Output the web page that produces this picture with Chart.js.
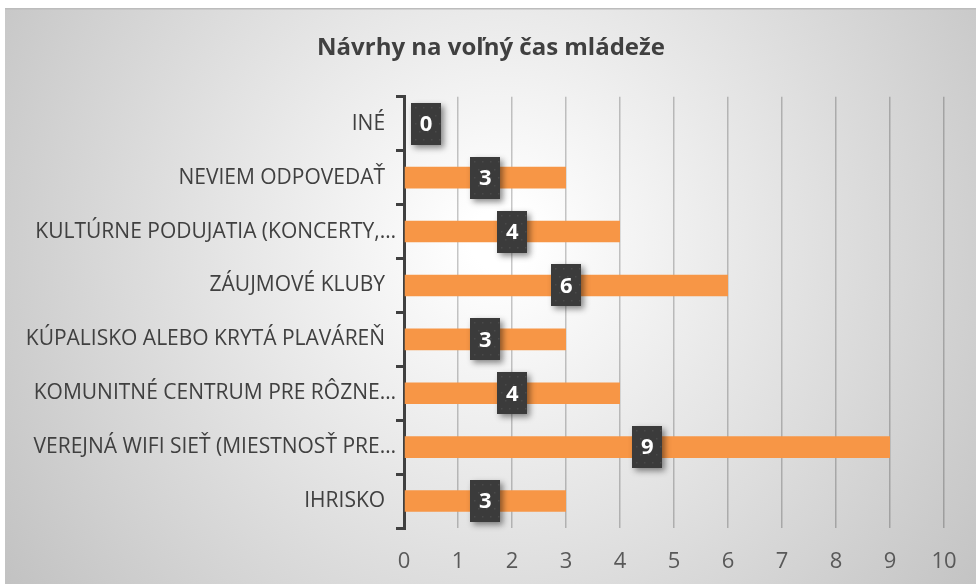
<!DOCTYPE html>
<html>
<head>
<meta charset="utf-8">
<script src="https://cdn.jsdelivr.net/npm/chart.js@4/dist/chart.umd.min.js"></script>
<style>
  html, body { margin: 0; padding: 0; background: #fff; }
  #wrap { width: 976px; height: 584px; }
</style>
</head>
<body>
<div id="wrap"><canvas id="chart" width="976" height="584"></canvas></div>
<script>
const title = "Návrhy na voľný čas mládeže";
const categories = [
	"INÉ  ",
	"NEVIEM ODPOVEDAŤ  ",
	"KULTÚRNE PODUJATIA (KONCERTY,…",
	"ZÁUJMOVÉ KLUBY  ",
	"KÚPALISKO ALEBO KRYTÁ PLAVÁREŇ  ",
	"KOMUNITNÉ CENTRUM PRE RÔZNE…",
	"VEREJNÁ WIFI SIEŤ (MIESTNOSŤ PRE…",
	"IHRISKO  ",
];
const values = [0, 3, 4, 6, 3, 4, 9, 3];
const xTicks = [0, 1, 2, 3, 4, 5, 6, 7, 8, 9, 10];

const background = {
	id: "background",
	beforeDraw(chart) {
		const { ctx, width, height } = chart;
		ctx.save();
		ctx.fillStyle = "#ffffff";
		ctx.fillRect(0, 0, width, height);
		const g = ctx.createRadialGradient(500, 240, 30, 500, 240, 620);
		g.addColorStop(0, "#ffffff");
		g.addColorStop(1, "#c0c0c0");
		ctx.fillStyle = g;
		ctx.fillRect(5, 8, width - 5, height - 8);
		ctx.fillStyle = "#bcbcbc";
		ctx.fillRect(5, 8, width - 5, 1.5);
		ctx.restore();
	},
};

const boxLabels = {
	id: "boxLabels",
	afterDatasetsDraw(chart) {
		const { ctx, chartArea } = chart;
		const meta = chart.getDatasetMeta(0);
		ctx.save();
		meta.data.forEach((bar, i) => {
			const w = 30, h = 42;
			const cx = Math.max((bar.x + bar.base) / 2, chartArea.left + 22);
			const x = Math.round(cx - w / 2), y = Math.round(bar.y - h / 2);
			ctx.save();
			ctx.shadowColor = "rgba(0,0,0,0.45)";
			ctx.shadowBlur = 6;
			ctx.shadowOffsetX = 3;
			ctx.shadowOffsetY = 3;
			ctx.fillStyle = "#3b3b3b";
			ctx.fillRect(x, y, w, h);
			ctx.restore();
			ctx.fillStyle = "#4a4a4a";
			for (let dy = 4; dy < h; dy += 8) {
				for (let dx = 4 + (dy % 16 === 4 ? 0 : 4); dx < w; dx += 8) {
					ctx.fillRect(x + dx, y + dy, 1.5, 1.5);
				}
			}
			ctx.fillStyle = "#ffffff";
			ctx.font = "bold 22px 'Open Sans'";
			ctx.textAlign = "center";
			ctx.textBaseline = "middle";
			ctx.fillText(String(values[i]), cx, bar.y + 1);
		});
		ctx.restore();
	},
};

new Chart(document.getElementById("chart"), {
	type: "bar",
	plugins: [background, boxLabels],
	data: {
		labels: categories,
		datasets: [
			{
				data: values,
				backgroundColor: "#F79646",
				borderWidth: 0,
				barPercentage: 0.4,
				categoryPercentage: 1,
			},
		],
	},
	options: {
		indexAxis: "y",
		responsive: false,
		animation: false,
		layout: { padding: { top: 9, right: 0, bottom: 0, left: 6 } },
		plugins: {
			legend: { display: false },
			tooltip: { enabled: false },
			title: {
				display: true,
				text: title,
				color: "#404040",
				font: { family: "'Open Sans'", size: 24, weight: "bold" },
				padding: { top: 25, bottom: 34 },
			},
		},
		scales: {
			x: {
				min: 0,
				max: 10,
				afterBuildTicks(scale) {
					scale.ticks = xTicks.map(v => ({ value: v }));
				},
				afterFit(scale) {
					scale.height = 56;
					scale.paddingRight = 32;
				},
				border: { display: false },
				grid: {
					color: "rgba(0,0,0,0.22)",
					lineWidth: 1.5,
					drawTicks: false,
				},
				ticks: {
					color: "#595959",
					padding: 21,
					font: { family: "'Open Sans'", size: 22 },
				},
			},
			y: {
				afterFit(scale) {
					scale.width = 398;
				},
				border: { display: true, color: "#404040", width: 3 },
				grid: {
					drawOnChartArea: false,
					drawTicks: true,
					tickLength: 8,
					color: "#404040",
					lineWidth: 3,
				},
				ticks: {
					color: "#404040",
					padding: 0,
					font: { family: "'Open Sans'", size: 21 },
				},
			},
		},
	},
});
</script>
</body>
</html>
